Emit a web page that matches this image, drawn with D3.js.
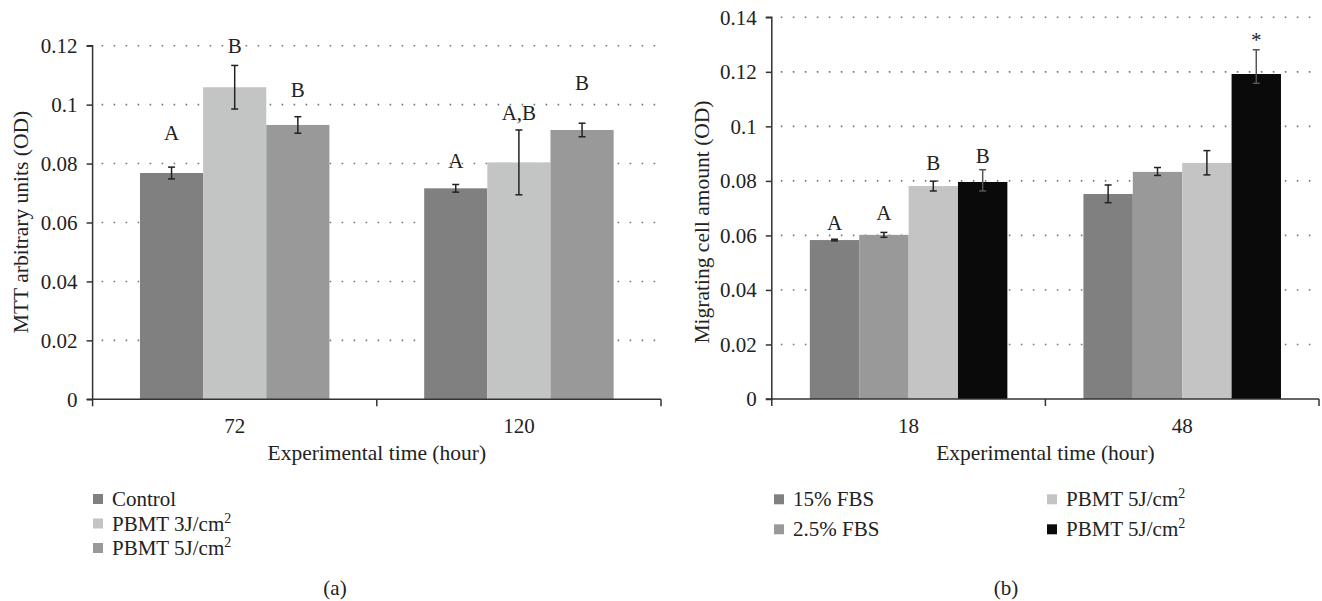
<!DOCTYPE html>
<html>
<head>
<meta charset="utf-8">
<script src="https://cdn.jsdelivr.net/npm/d3@7"></script>
<style>
  body { margin: 0; background: #fff; }
  svg text { font-family: "Liberation Serif", "Times New Roman", serif; fill: #222; }
</style>
</head>
<body>
<svg width="1322" height="601"></svg>
<script>
// ---- panel (a) data ----
var timesA = ["72", "120"];
var seriesA = ["Control", "PBMT 3J/cm", "PBMT 5J/cm"];
var supA = ["", "2", "2"];
var colorsA = ["#808080", "#c3c5c4", "#999999"];
var valuesA = [[0.0768, 0.1059, 0.0931], [0.0716, 0.0804, 0.0914]];
var errA = [[0.0020, 0.0074, 0.0028], [0.0013, 0.0110, 0.0023]];
var lettersA = [["A", "B", "B"], ["A", "A,B", "B"]];
var letterPosA = [[0.0880, 0.1176, 0.1026], [0.0785, 0.0948, 0.1050]];
var ticksA = [0, 0.02, 0.04, 0.06, 0.08, 0.1, 0.12];

// ---- panel (b) data ----
var timesB = ["18", "48"];
var seriesB = ["15% FBS", "2.5% FBS", "PBMT 5J/cm", "PBMT 5J/cm"];
var supB = ["", "", "2", "2"];
var colorsB = ["#808080", "#999999", "#c3c4c3", "#0a0a0a"];
var valuesB = [[0.0583, 0.0602, 0.0781, 0.0796], [0.0752, 0.0833, 0.0866, 0.1192]];
var errUpB = [[0.0003, 0.0009, 0.0018, 0.0045], [0.0033, 0.0016, 0.0045, 0.0089]];
var errDnB = [[0.0003, 0.0009, 0.0018, 0.0033], [0.0032, 0.0013, 0.0044, 0.0034]];
var lettersB = [["A", "A", "B", "B"], ["", "", "", "*"]];
var letterPosB = [[0.0620, 0.0657, 0.0840, 0.0865], [0, 0, 0, 0.1290]];
var ticksB = [0, 0.02, 0.04, 0.06, 0.08, 0.1, 0.12, 0.14];

var svg = d3.select("svg");
var fmt = function(d){ return String(+d.toFixed(2)); };

var drawPanel = function(p){
  var g = svg.append("g");
  var x0 = d3.scaleBand().domain(p.times).range([p.left, p.right]).padding(0);
  var x1 = d3.scaleBand().domain(d3.range(p.series.length))
      .range([0, x0.bandwidth()]).paddingInner(0).paddingOuter(p.outer);
  var y = d3.scaleLinear().domain([0, p.max]).range([p.bottom, p.top]);

  // dotted gridlines
  g.append("g").selectAll("line")
    .data(p.ticks.filter(function(d){ return d > 0; }))
    .enter().append("line")
    .attr("x1", p.left + 9).attr("x2", p.right)
    .attr("y1", function(d){ return y(d); }).attr("y2", function(d){ return y(d); })
    .attr("stroke", "#777").attr("stroke-width", 1.6)
    .attr("stroke-dasharray", "1.6,10.4");

  // bars
  var groups = g.append("g").selectAll("g")
    .data(p.times).enter().append("g")
    .attr("transform", function(d){ return "translate(" + x0(d) + ",0)"; });

  groups.each(function(t, gi){
    var gg = d3.select(this);
    var rows = p.series.map(function(s, i){
      return {i: i, v: p.values[gi][i], up: p.errUp[gi][i], dn: p.errDn[gi][i],
              lab: p.letters[gi][i], lp: p.letterPos[gi][i]};
    });
    gg.selectAll("rect").data(rows).enter().append("rect")
      .attr("x", function(d){ return x1(d.i); })
      .attr("width", x1.bandwidth())
      .attr("y", function(d){ return y(d.v); })
      .attr("height", function(d){ return y(0) - y(d.v); })
      .attr("fill", function(d){ return p.colors[d.i]; });

    var eb = gg.selectAll(".err").data(rows).enter().append("g")
      .attr("stroke", function(d){ return p.colors[d.i] == "#0a0a0a" ? "#555" : "#222"; })
      .attr("stroke-width", 1.5);
    eb.append("line")
      .attr("x1", function(d){ return x1(d.i) + x1.bandwidth()/2; })
      .attr("x2", function(d){ return x1(d.i) + x1.bandwidth()/2; })
      .attr("y1", function(d){ return y(d.v + d.up); })
      .attr("y2", function(d){ return y(d.v - d.dn); });
    eb.append("line")
      .attr("x1", function(d){ return x1(d.i) + x1.bandwidth()/2 - 3.5; })
      .attr("x2", function(d){ return x1(d.i) + x1.bandwidth()/2 + 3.5; })
      .attr("y1", function(d){ return y(d.v + d.up); })
      .attr("y2", function(d){ return y(d.v + d.up); });
    eb.append("line")
      .attr("x1", function(d){ return x1(d.i) + x1.bandwidth()/2 - 3.5; })
      .attr("x2", function(d){ return x1(d.i) + x1.bandwidth()/2 + 3.5; })
      .attr("y1", function(d){ return y(d.v - d.dn); })
      .attr("y2", function(d){ return y(d.v - d.dn); });

    gg.selectAll(".lab").data(rows.filter(function(d){ return d.lab; }))
      .enter().append("text")
      .attr("x", function(d){ return x1(d.i) + x1.bandwidth()/2; })
      .attr("y", function(d){ return y(d.lp); })
      .attr("text-anchor", "middle")
      .style("font-size", "21px")
      .text(function(d){ return d.lab; });
  });

  // y axis
  var yAxis = d3.axisLeft(y).tickValues(p.ticks).tickFormat(fmt).tickSize(6).tickPadding(9);
  var ya = g.append("g").attr("transform", "translate(" + p.left + ",0)").call(yAxis);
  ya.select(".domain").attr("stroke", "#333").attr("stroke-width", 1.5)
    .attr("d", "M" + (-6) + "," + p.top + "H0V" + p.bottom + "H-6");
  ya.selectAll(".tick line").attr("stroke", "#333").attr("stroke-width", 1.5);
  ya.selectAll(".tick text").style("font-size", "21px")
    .style("font-family", "Liberation Serif").attr("fill", "#222");

  // x axis: ticks at band edges
  var xa = g.append("g").attr("transform", "translate(0," + p.bottom + ")");
  xa.append("line").attr("x1", p.left).attr("x2", p.right)
    .attr("stroke", "#333").attr("stroke-width", 1.5);
  xa.selectAll(".edge").data(p.times.concat(["end"])).enter().append("line")
    .attr("x1", function(d, i){ return i < p.times.length ? x0(d) : p.right; })
    .attr("x2", function(d, i){ return i < p.times.length ? x0(d) : p.right; })
    .attr("y1", 0).attr("y2", 7)
    .attr("stroke", "#333").attr("stroke-width", 1.5);
  xa.selectAll(".cat").data(p.times).enter().append("text")
    .attr("x", function(d){ return x0(d) + x0.bandwidth()/2; })
    .attr("y", 34).attr("text-anchor", "middle")
    .style("font-size", "21px").text(function(d){ return d; });

  // titles
  g.append("text").attr("x", (p.left + p.right)/2).attr("y", 460)
    .attr("text-anchor", "middle").style("font-size", "21.5px")
    .text("Experimental time (hour)");
  g.append("text")
    .attr("transform", "translate(" + p.ylabX + ",222) rotate(-90)")
    .attr("text-anchor", "middle").style("font-size", "21.5px")
    .text(p.ylabel);

  // legend
  var lg = g.append("g").selectAll("g").data(p.series).enter().append("g")
    .attr("transform", function(d, i){ return "translate(" + p.legX[i] + "," + p.legY[i] + ")"; });
  lg.append("rect").attr("x", 0).attr("y", -5).attr("width", 10).attr("height", 10)
    .attr("fill", function(d, i){ return p.colors[i]; });
  var lt = lg.append("text").attr("x", p.legText).attr("y", 7).style("font-size", "21px");
  lt.append("tspan").text(function(d){ return d; });
  lt.append("tspan").attr("dy", -8).style("font-size", "14px")
    .text(function(d, i){ return p.sup[i]; });

  g.append("text").attr("x", p.capX).attr("y", 595).attr("text-anchor", "middle")
    .style("font-size", "21px").text(p.caption);
};

drawPanel({
  times: timesA, series: seriesA, sup: supA, colors: colorsA, values: valuesA,
  errUp: errA, errDn: errA, letters: lettersA, letterPos: letterPosA, ticks: ticksA,
  max: 0.12, left: 92.6, right: 661, top: 45.7, bottom: 399.3, outer: 0.75,
  ylabel: "MTT arbitrary units (OD)", ylabX: 28,
  legX: [93, 93, 93], legY: [499, 523.5, 548], legText: 19,
  caption: "(a)", capX: 335
});

drawPanel({
  times: timesB, series: seriesB, sup: supB, colors: colorsB, values: valuesB,
  errUp: errUpB, errDn: errDnB, letters: lettersB, letterPos: letterPosB, ticks: ticksB,
  max: 0.14, left: 771.8, right: 1319, top: 17.3, bottom: 399, outer: 0.77,
  ylabel: "Migrating cell amount (OD)", ylabX: 709,
  legX: [774, 774, 1047, 1047], legY: [499.3, 529.3, 499.3, 529.3], legText: 19,
  caption: "(b)", capX: 1006
});
</script>
</body>
</html>
